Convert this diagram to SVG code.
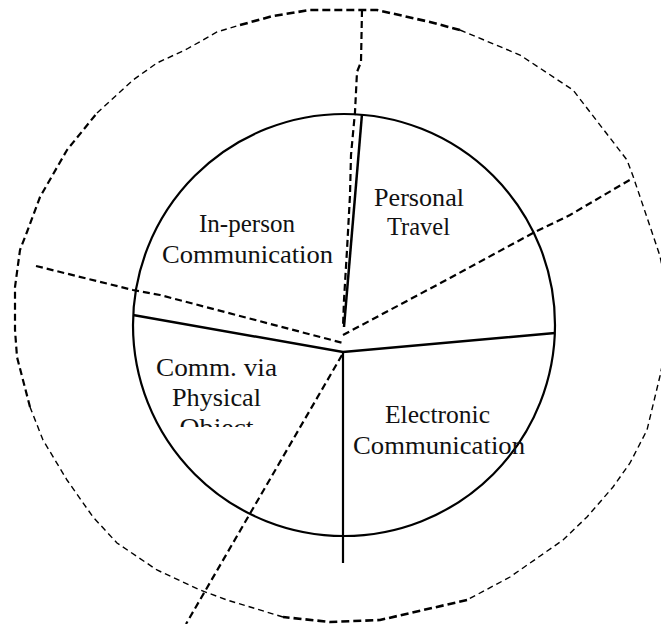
<svg xmlns="http://www.w3.org/2000/svg" width="661" height="624" viewBox="0 0 661 624">
  <style>
    .solid { fill: none; stroke: #000; stroke-width: 2.5; stroke-linecap: butt; }
    .ring { fill: none; stroke: #000; stroke-width: 2.2; }
    .dash { fill: none; stroke: #000; stroke-width: 2.2; stroke-dasharray: 7 4; }
    .dash-thin { fill: none; stroke: #000; stroke-width: 1.4; stroke-dasharray: 6 4; }
    .dash-bold { fill: none; stroke: #000; stroke-width: 2.6; stroke-dasharray: 8 4; }
    .label { font-family: "Liberation Serif", "Times New Roman", serif; font-size: 26px; fill: #111; text-anchor: middle; }
  </style>
  <defs>
    <clipPath id="clip-physical">
      <rect x="130" y="340" width="200" height="87"/>
    </clipPath>
  </defs>

  <!-- outer dashed boundary, drawn as segments of differing weight -->
  <g id="outer-boundary">
    <path class="dash-bold" d="M240,25 L273,16 L310,10 L362,10 L377,10 L430,22 L460,30"/>
    <path class="dash-thin" d="M460,30 L520,55 L573,90 L627,160 L633,176 L660,256 L672,316 L660,376 L647,430 L630,463 L613,487 L587,517 L563,540 L510,577 L467,600"/>
    <path class="dash-bold" d="M467,600 L380,620 L330,622 L283,617"/>
    <path class="dash-thin" d="M283,617 L227,600 L200,590 L157,570 L117,543 L93,517 L67,480 L43,440 L30,407"/>
    <path class="dash" d="M30,407 L17,357 L15,330 L15,287 L20,250 L27,232 L40,197 L67,150 L97,113"/>
    <path class="dash-thin" d="M97,113 L133,80 L157,63 L187,49 L217,32 L240,25"/>
  </g>

  <!-- inner circle -->
  <g id="inner-circle">
    <circle class="ring" cx="344" cy="325" r="211"/>
  </g>

  <!-- connectors: solid sector dividers and dashed outer dividers -->
  <g id="connectors">
    <path class="solid" d="M362,114 L344,327"/>
    <path class="solid" d="M133,315 L343,352 L555,333"/>
    <path class="solid" style="stroke-width:2.2" d="M343,352 L343,563"/>

    <path class="dash" d="M362,10 L361,62 L357,72 L355,112 L351,155 L350,195 L347,250 L344,300 L343,327"/>
    <path class="dash" d="M36,266 L133,290 L160,295 L343,343"/>
    <path class="dash" d="M343,335 L450,278 L533,233 L570,215 L633,178"/>
    <path class="dash" d="M342,355 L186,624"/>
  </g>

  <g id="in-person">
    <text class="label" x="247" y="232" textLength="96" lengthAdjust="spacingAndGlyphs">In-person</text>
    <text class="label" x="247.5" y="263" textLength="171" lengthAdjust="spacingAndGlyphs">Communication</text>
  </g>

  <g id="personal-travel">
    <text class="label" x="419" y="206" textLength="90" lengthAdjust="spacingAndGlyphs">Personal</text>
    <text class="label" x="418.5" y="235" textLength="63" lengthAdjust="spacingAndGlyphs">Travel</text>
  </g>

  <g id="physical-object">
    <g clip-path="url(#clip-physical)">
      <text class="label" x="216.5" y="376" textLength="121" lengthAdjust="spacingAndGlyphs">Comm. via</text>
      <text class="label" x="216.5" y="406" textLength="89" lengthAdjust="spacingAndGlyphs">Physical</text>
      <text class="label" x="216.5" y="436" textLength="74" lengthAdjust="spacingAndGlyphs">Object</text>
    </g>
  </g>

  <g id="electronic">
    <text class="label" x="437.5" y="423" textLength="105" lengthAdjust="spacingAndGlyphs">Electronic</text>
    <text class="label" x="439" y="454" textLength="172" lengthAdjust="spacingAndGlyphs">Communication</text>
  </g>
</svg>
